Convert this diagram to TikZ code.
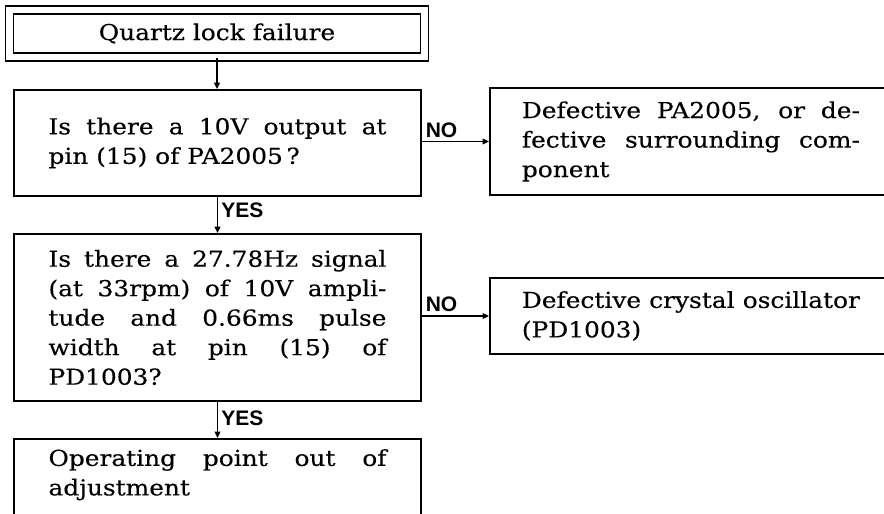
\documentclass[tikz,border=0pt]{standalone}
\usepackage{fontspec}
\setmainfont[FakeStretch=1.13,FakeBold=0.3]{DejaVu Serif}
\newfontfamily\lblfont{Liberation Sans}
\usetikzlibrary{arrows.meta,positioning}
\tikzset{
  qbox/.style={draw,line width=0.9pt,text width=169pt,align=justify,inner xsep=17.25pt,inner ysep=2pt,font=\fontsize{11}{14.75}\selectfont},
  rbox/.style={qbox,inner xsep=16pt,anchor=west},
  ar/.style={-{Triangle[length=3.2pt,width=2.8pt]},line width=0.9pt},
  ans/.style={font=\lblfont\bfseries\fontsize{10.5}{12}\selectfont,inner sep=1.5pt},
}
\begin{document}
\begin{tikzpicture}[x=0.5pt,y=-0.5pt]
\useasboundingbox (0,0) rectangle (884,514);
\clip (0,0) rectangle (884,514);
% main column
\node[draw,double,double distance=3.1pt,line width=0.9pt,minimum width=207.5pt,minimum height=23.5pt,
  font=\fontsize{11}{14.75}\selectfont] (start) at (217,33.5) {Quartz lock failure};
\node[qbox,minimum height=53pt] (q1) at (217.5,143)
  {Is there a 10V output at\linebreak pin (15) of PA2005\,?};
\node[qbox,minimum height=83.5pt] (q2) at (217.5,317.5)
  {Is there a 27.78Hz signal\linebreak (at 33rpm) of 10V ampli-\linebreak tude and 0.66ms pulse\linebreak width at pin (15) of\linebreak PD1003?};
\node[qbox,anchor=north,text height=11.5pt,text depth=60pt] (fin) at (217.5,438)
  {Operating point out of\linebreak adjustment};
% faults
\node[rbox,minimum height=53.5pt] (r1) at (489,141.5)
  {Defective PA2005, or de-\linebreak fective surrounding com-\linebreak ponent};
\node[rbox,minimum height=38pt] (r2) at (489,316)
  {\hyphenpenalty=10000 Defective crystal oscillator\linebreak (PD1003)};
% connectors
\draw[ar] (start) -- (start |- q1.north);
\draw[ar] (q1) -- (q2) node[ans,right,pos=0.37] {YES};
\draw[ar] (q2) -- (fin) node[ans,right,pos=0.45] {YES};
\draw[ar] (q1.east |- r1.west) -- (r1.west) node[ans,above right,pos=0] {NO};
\draw[ar] (q2.east |- r2.west) -- (r2.west) node[ans,above right,pos=0] {NO};
\end{tikzpicture}
\end{document}
